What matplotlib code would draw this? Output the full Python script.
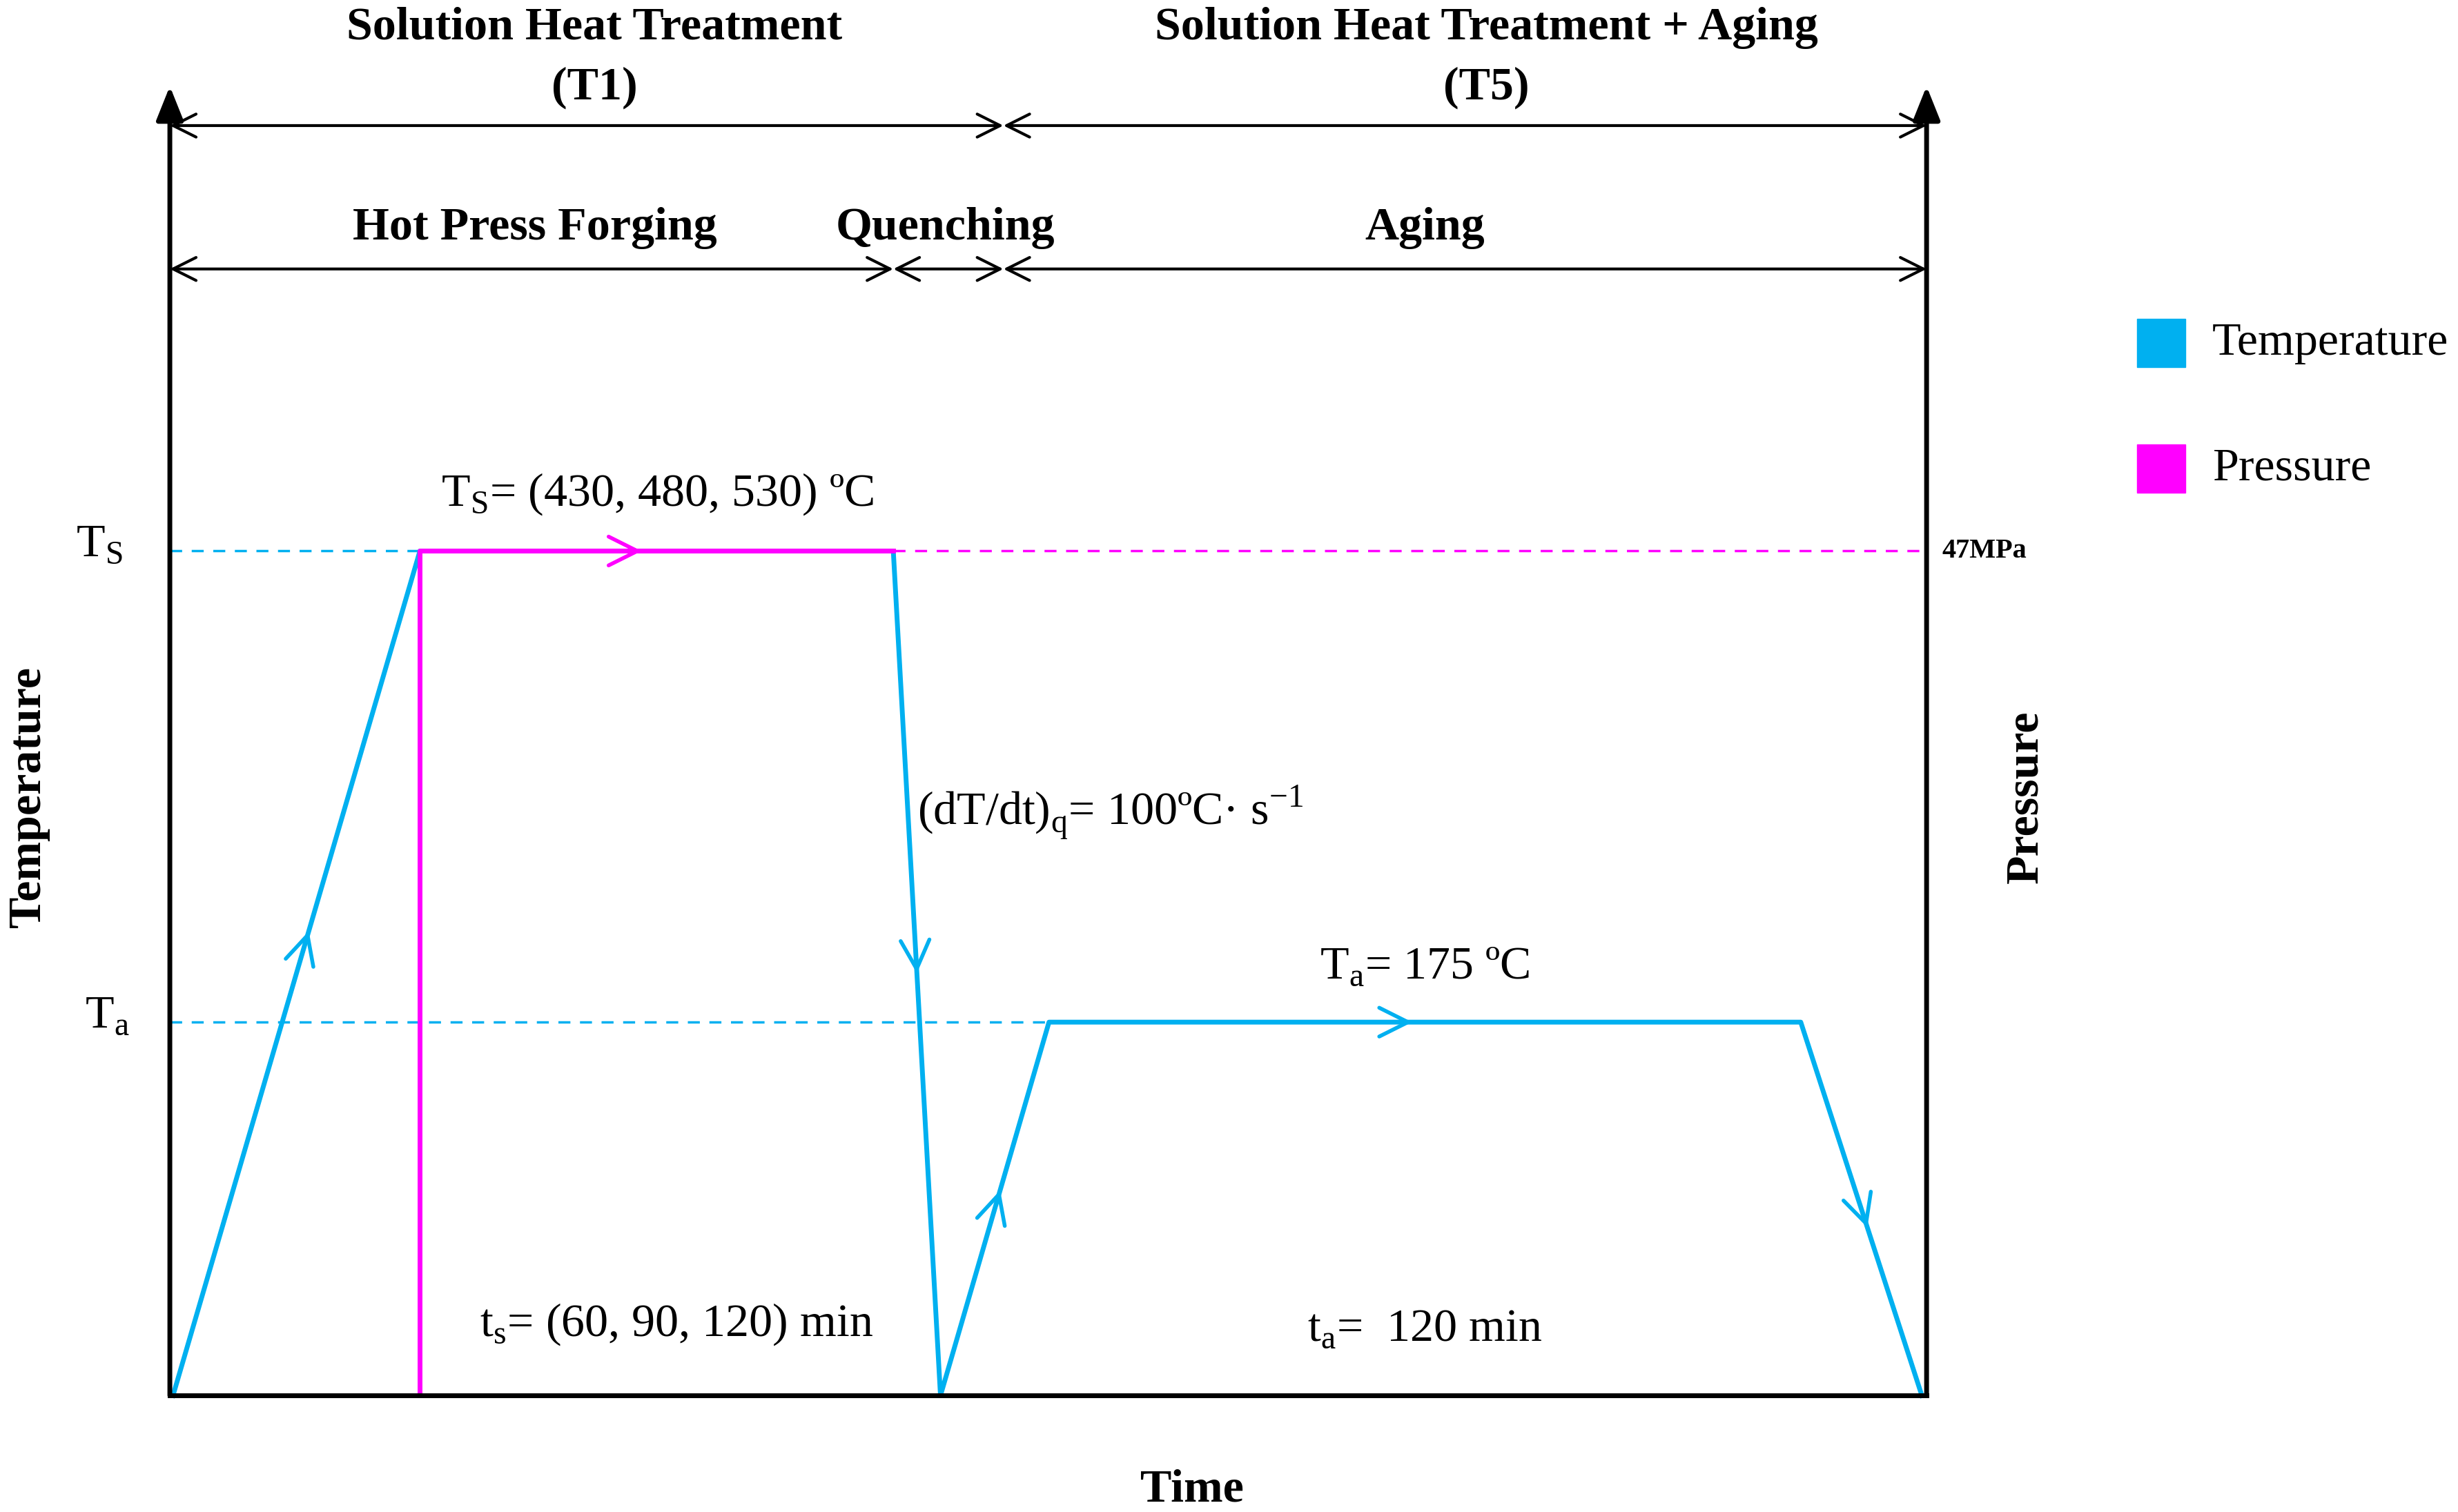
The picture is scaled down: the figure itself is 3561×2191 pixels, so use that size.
import matplotlib
matplotlib.use("Agg")
import matplotlib.pyplot as plt
from matplotlib.patches import Rectangle

# data in schematic units (time, temperature level)
T_S, T_A = 536, 237
temp_x = [2, 159, 460, 490, 559, 1037, 1114]
temp_y = [0, T_S, T_S, 0, T_A, T_A, 0]
pres_x = [159, 159, 460]
pres_y = [0, T_S, T_S]
XMAX, YMAX = 1117, 831

CYAN = "#00B0F0"
MAG = "#FF00FF"
plt.rcParams["font.family"] = "Liberation Serif"

fig = plt.figure(figsize=(35.61, 21.91), dpi=100)
ax = fig.add_axes([0.0691, 0.077, 0.7147, 0.866])
ax.set_xlim(0, XMAX)
ax.set_ylim(0, YMAX)
ax.axis("off")
fs = 49

# dashed guides
ax.plot([0, pres_x[0]], [T_S, T_S], color=CYAN, lw=2.5, dashes=(5, 4))
ax.plot([0, temp_x[4]], [T_A, T_A], color=CYAN, lw=2.5, dashes=(5, 4))
ax.plot([temp_x[2], XMAX], [T_S, T_S], color=MAG, lw=2.5, dashes=(5, 4))

ax.plot(temp_x, temp_y, color=CYAN, lw=5, clip_on=False)
ax.plot(pres_x, pres_y, color=MAG, lw=5)

def chev(x0, y0, x1, y1, c):
    ax.annotate("", xy=(x1, y1), xytext=(x0, y0),
                arrowprops=dict(arrowstyle="->,head_length=0.5,head_width=0.25", color=c, lw=4,
                                mutation_scale=60, shrinkA=0, shrinkB=0))

segs = [(0, 1, 0.55), (3, 4, 0.55), (5, 6, 0.55), (2, 3, 0.5)]
for a, b, f in segs:
    x0, y0 = temp_x[a], temp_y[a]
    x1, y1 = temp_x[b], temp_y[b]
    mx, my = x0 + (x1 - x0) * f, y0 + (y1 - y0) * f
    dx, dy = (x1 - x0) * 0.03, (y1 - y0) * 0.03
    chev(mx - dx, my - dy, mx, my, CYAN)
chev(285, T_S, 300, T_S, MAG)
chev(775, T_A, 790, T_A, CYAN)

# axes lines
ax.plot([0, XMAX], [0, 0], color="black", lw=5, clip_on=False)
for xx in (0, XMAX):
    ax.annotate("", xy=(xx, YMAX), xytext=(xx, 0),
                arrowprops=dict(arrowstyle="-|>,head_length=0.5,head_width=0.2", color="black", lw=5,
                                mutation_scale=60, shrinkA=0, shrinkB=0))

def darrow(x0, x1, y):
    ax.annotate("", xy=(x1, y), xytext=(x0, y),
                arrowprops=dict(arrowstyle="<->,head_length=0.4,head_width=0.2", color="black", lw=3,
                                mutation_scale=60, shrinkA=0, shrinkB=0))

darrow(0, 530, 806)
darrow(530, XMAX, 806)
darrow(0, 460, 715)
darrow(460, 530, 715)
darrow(530, XMAX, 715)

b = dict(fontsize=fs, fontweight="bold", ha="center", va="center")
ax.text(270, 868, "Solution Heat Treatment", **b)
ax.text(270, 830, "(T1)", **b)
ax.text(837, 868, "Solution Heat Treatment + Aging", **b)
ax.text(837, 830, "(T5)", **b)
ax.text(232, 741, "Hot Press Forging", **b)
ax.text(493, 741, "Quenching", **b)
ax.text(798, 741, "Aging", **b)
ax.text(650, -60, "Time", **b)
ax.text(-90, 380, "Temperature", rotation=90, **b)
ax.text(1180, 380, "Pressure", rotation=90, **b)
ax.text(1127, T_S, "47MPa", fontsize=29, fontweight="bold", ha="left", va="center")

n = dict(fontsize=fs, ha="center", va="center")
ax.text(-45, T_S + 4, "T$_\\mathregular{S}$", **n)
ax.text(-40, T_A + 4, "T$_\\mathregular{a}$", **n)
ax.text(310, 572, "T$_\\mathregular{S}$= (430, 480, 530) ºC", **n)
ax.text(598, 370, "(dT/dt)$_\\mathregular{q}$= 100ºC· s$^\\mathregular{-1}$", **n)
ax.text(798, 272, "T$_\\mathregular{a}$= 175 ºC", **n)
ax.text(322, 45, "t$_\\mathregular{s}$= (60, 90, 120) min", **n)
ax.text(798, 42, "t$_\\mathregular{a}$=  120 min", **n)

# legend
for yy, c, lab in [(0.773, CYAN, "Temperature"), (0.690, MAG, "Pressure")]:
    fig.patches.append(Rectangle((0.8695, yy - 0.016), 0.0195, 0.032, color=c, transform=fig.transFigure))
    fig.text(0.900, yy, lab, fontsize=fs, va="center", ha="left")

fig.savefig("out.png", dpi=100)
